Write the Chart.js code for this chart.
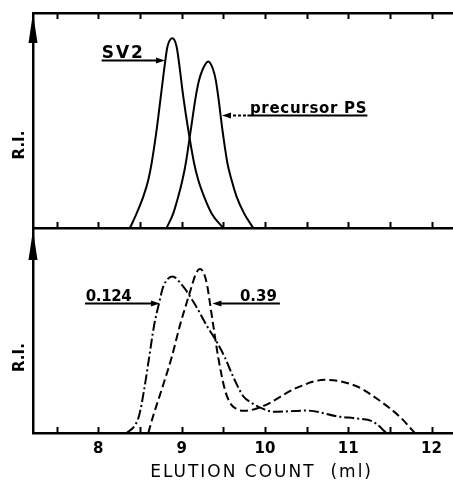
<!DOCTYPE html>
<html>
<head>
<meta charset="utf-8">
<script src="https://cdn.jsdelivr.net/npm/chart.js@4.4.1/dist/chart.umd.min.js"></script>
<style>
  html, body { margin: 0; padding: 0; background: #fff; }
  #cadre { position: relative; width: 453px; height: 491px; overflow: hidden; background: #fff; }
  #haut { position: absolute; left: 0; top: 0; }
  #bas { position: absolute; left: 0; top: 228px; }
</style>
</head>
<body>
<div id="cadre">
  <canvas id="haut" width="453" height="232"></canvas>
  <canvas id="bas" width="453" height="263"></canvas>
</div>
<script>
/** chromatogrammes GPC : volume d'élution (ml) / réponse R.I. (100 = haut du cadre supérieur) */

// axe des abscisses
const XMIN = 7.216
const XMAX = 12.258
const tickValues = [ 7.5, 8, 8.5, 9, 9.5, 10, 10.5, 11, 11.5, 12 ]
const xTitle = "ELUTION COUNT  (ml)"
const yTitle = "R.I."

// cadre du haut : SV2 et précurseur PS
const svVol = [ 8.38, 8.46, 8.54, 8.60, 8.64, 8.70, 8.75, 8.80, 8.83, 8.89, 8.94, 8.97, 9.02, 9.08, 9.15, 9.20, 9.27, 9.36, 9.50 ]
const svRI = [ 0, 6.8, 14.6, 22.3, 30.1, 45.6, 61.1, 76.6, 84.3, 88.2, 84.3, 76.6, 61.1, 45.6, 30.1, 22.3, 14.6, 6.8, 0 ]
const psVol = [ 8.82, 8.90, 8.96, 9.01, 9.05, 9.11, 9.17, 9.21, 9.25, 9.32, 9.38, 9.41, 9.44, 9.49, 9.55, 9.60, 9.66, 9.75, 9.86 ]
const psRI = [ 0, 6.8, 14.6, 22.3, 30.1, 45.6, 61.1, 68.8, 73.5, 77.4, 73.5, 68.8, 61.1, 45.6, 30.1, 22.3, 14.6, 6.8, 0 ]

// cadre du bas : fractions 0.124 (trait mixte) et 0.39 (tirets)
const f124Vol = [ 8.34, 8.44, 8.49, 8.55, 8.61, 8.67, 8.73, 8.78, 8.89, 9.02, 9.15, 9.30, 9.42, 9.52, 9.62, 9.74, 9.84, 9.98, 10.10, 10.50, 10.90, 11.10, 11.30, 11.46 ]
const f124RI = [ 0, 3.7, 8.4, 20.8, 36.3, 51.8, 62.6, 70.4, 75.3, 70.4, 62.6, 51.8, 44.0, 36.3, 27.0, 17.7, 14.5, 11.6, 10.2, 10.8, 7.8, 7.0, 5.4, 0 ]
const f39Vol = [ 8.60, 8.66, 8.76, 8.88, 8.98, 9.06, 9.12, 9.17, 9.22, 9.27, 9.31, 9.34, 9.38, 9.44, 9.52, 9.58, 9.66, 9.76, 9.98, 10.38, 10.72, 11.10, 11.38, 11.62, 11.80 ]
const f39RI = [ 0, 8.4, 20.8, 36.3, 51.8, 62.6, 70.4, 76.6, 78.9, 76.6, 70.4, 62.6, 51.8, 36.3, 20.8, 14.6, 11.5, 10.7, 13.0, 21.7, 25.6, 22.5, 15.5, 7.8, 0 ]

// étiquettes fléchées (coordonnées en unités des axes)
const notesHaut = [
    { text: "SV2", xText: 8.04, x0: 8.04, x1: 8.80, y: 78.1, tip: 'right', size: 17, spacing: 2 },
    { text: "precursor PS", xText: 9.82, x0: 9.485, x1: 11.23, y: 52.6, tip: 'left', dash: 9.79, size: 15, spacing: 0.7 }
]
const notesBas = [
    { text: "0.124", xText: 7.85, x0: 7.84, x1: 8.74, y: 62.8, tip: 'right', size: 15, spacing: -0.4 },
    { text: "0.39", xText: 9.70, x0: 9.37, x1: 10.18, y: 62.8, tip: 'left', size: 15, spacing: 0 }
]

const FONT = '"DejaVu Sans", sans-serif'
const NOIR = '#000'

function points( vol, ri ) {
    return vol.map( ( v, i ) => ( { x: v, y: ri[ i ] } ) )
}

function courbe( vol, ri, dash ) {
    return {
        data: points( vol, ri ),
        showLine: true,
        borderColor: NOIR,
        borderWidth: 2,
        borderDash: dash,
        pointRadius: 0,
        cubicInterpolationMode: 'monotone',
        fill: false
    }
}

/** pointe de flèche pleine, sommet en (x, y) */
function pointe( ctx, x, y, dx, dy, len, w ) {
    ctx.beginPath()
    ctx.moveTo( x, y )
    ctx.lineTo( x - dx * len - dy * w, y - dy * len - dx * w )
    ctx.lineTo( x - dx * len + dy * w, y - dy * len + dx * w )
    ctx.closePath()
    ctx.fill()
}

/** plugin : graduations internes, flèche de l'axe R.I., étiquettes */
function decor( notes, yLabel, withTitle ) {
    return {
        id: 'decor',
        afterDraw( chart ) {
            const ctx = chart.ctx
            const area = chart.chartArea
            const sx = chart.scales.x
            const sy = chart.scales.y
            const espace = 'letterSpacing' in ctx
            ctx.save()
            ctx.strokeStyle = NOIR
            ctx.fillStyle = NOIR

            // graduations vers l'intérieur
            ctx.lineWidth = 2
            for ( const id of [ 'x', 'xHaut' ] ) {
                const s = chart.scales[ id ]
                if ( !s ) continue
                const y0 = id === 'x' ? area.bottom : area.top
                const sens = id === 'x' ? -1 : 1
                for ( const t of s.ticks ) {
                    const px = Math.round( s.getPixelForValue( t.value ) ) + 0.5
                    ctx.beginPath()
                    ctx.moveTo( px, y0 )
                    ctx.lineTo( px, y0 + sens * 6 )
                    ctx.stroke()
                }
            }

            // flèche en haut de l'axe vertical
            pointe( ctx, area.left, area.top, 0, -1, 30, 4.5 )

            // titre vertical
            ctx.font = 'bold 15px ' + FONT
            ctx.textAlign = 'center'
            ctx.textBaseline = 'middle'
            ctx.save()
            ctx.translate( area.left - 13, sy.getPixelForValue( yLabel ) )
            ctx.rotate( -Math.PI / 2 )
            ctx.fillText( yTitle, 0, 0 )
            ctx.restore()

            // étiquettes soulignées avec flèche
            ctx.textAlign = 'left'
            ctx.textBaseline = 'alphabetic'
            ctx.lineWidth = 2
            for ( const n of notes ) {
                const y = Math.round( sy.getPixelForValue( n.y ) ) + 0.5
                const a = sx.getPixelForValue( n.x0 )
                const b = sx.getPixelForValue( n.x1 )
                ctx.font = 'bold ' + n.size + 'px ' + FONT
                if ( espace ) ctx.letterSpacing = n.spacing + 'px'
                ctx.fillText( n.text, sx.getPixelForValue( n.xText ), y - 3 )
                if ( espace ) ctx.letterSpacing = '0px'
                ctx.beginPath()
                if ( n.dash ) {
                    const d = sx.getPixelForValue( n.dash )
                    ctx.setLineDash( [ 3, 2 ] )
                    ctx.moveTo( a + 6, y )
                    ctx.lineTo( d, y )
                    ctx.stroke()
                    ctx.setLineDash( [] )
                    ctx.beginPath()
                    ctx.moveTo( d, y )
                } else {
                    ctx.moveTo( n.tip === 'left' ? a + 6 : a, y )
                }
                ctx.lineTo( n.tip === 'right' ? b - 6 : b, y )
                ctx.stroke()
                if ( n.tip === 'right' )
                    pointe( ctx, b, y, 1, 0, 9, 3 )
                else
                    pointe( ctx, a, y, -1, 0, 9, 3 )
            }

            // titre de l'axe des abscisses
            if ( withTitle ) {
                ctx.font = '17px ' + FONT
                ctx.textAlign = 'center'
                ctx.textBaseline = 'middle'
                if ( espace ) ctx.letterSpacing = '2px'
                ctx.fillText( xTitle, sx.getPixelForValue( 9.96 ), area.bottom + 40 )
            }
            ctx.restore()
        }
    }
}

function axeX( position, labels ) {
    return {
        type: 'linear',
        position: position,
        min: XMIN,
        max: XMAX,
        afterBuildTicks: s => { s.ticks = tickValues.map( v => ( { value: v } ) ) },
        grid: { display: false, drawTicks: false },
        border: { display: true, color: NOIR, width: 2.5 },
        ticks: {
            display: labels,
            autoSkip: false,
            maxRotation: 0,
            padding: 7,
            color: NOIR,
            font: { family: FONT, size: 15, weight: 'bold' },
            callback: v => Number.isInteger( v ) ? String( v ) : ''
        }
    }
}

function axeY( yMax ) {
    return {
        type: 'linear',
        min: 0,
        max: yMax,
        grid: { display: false, drawTicks: false },
        border: { display: true, color: NOIR, width: 2.5 },
        ticks: { display: false }
    }
}

const commun = {
    responsive: false,
    animation: false,
    events: [],
    plugins: { legend: { display: false }, tooltip: { enabled: false } }
}

new Chart( document.getElementById( 'haut' ), {
    type: 'scatter',
    data: {
        datasets: [
            courbe( svVol, svRI, [] ),
            courbe( psVol, psRI, [] )
        ]
    },
    options: {
        ...commun,
        layout: { padding: { left: 33, top: 13, right: 0, bottom: 4 } },
        scales: { x: axeX( 'bottom', false ), xHaut: axeX( 'top', false ), y: axeY( 100 ) }
    },
    plugins: [ decor( notesHaut, 38.6, false ) ]
} )

new Chart( document.getElementById( 'bas' ), {
    type: 'scatter',
    data: {
        datasets: [
            courbe( f124Vol, f124RI, [ 10, 3, 2, 3 ] ),
            courbe( f39Vol, f39RI, [ 8, 4 ] )
        ]
    },
    options: {
        ...commun,
        layout: { padding: { left: 33, top: 2, right: 0, bottom: 26 } },
        scales: { x: axeX( 'bottom', true ), y: axeY( 97.7 ) }
    },
    plugins: [ decor( notesBas, 36.3, true ) ]
} )
</script>
</body>
</html>
